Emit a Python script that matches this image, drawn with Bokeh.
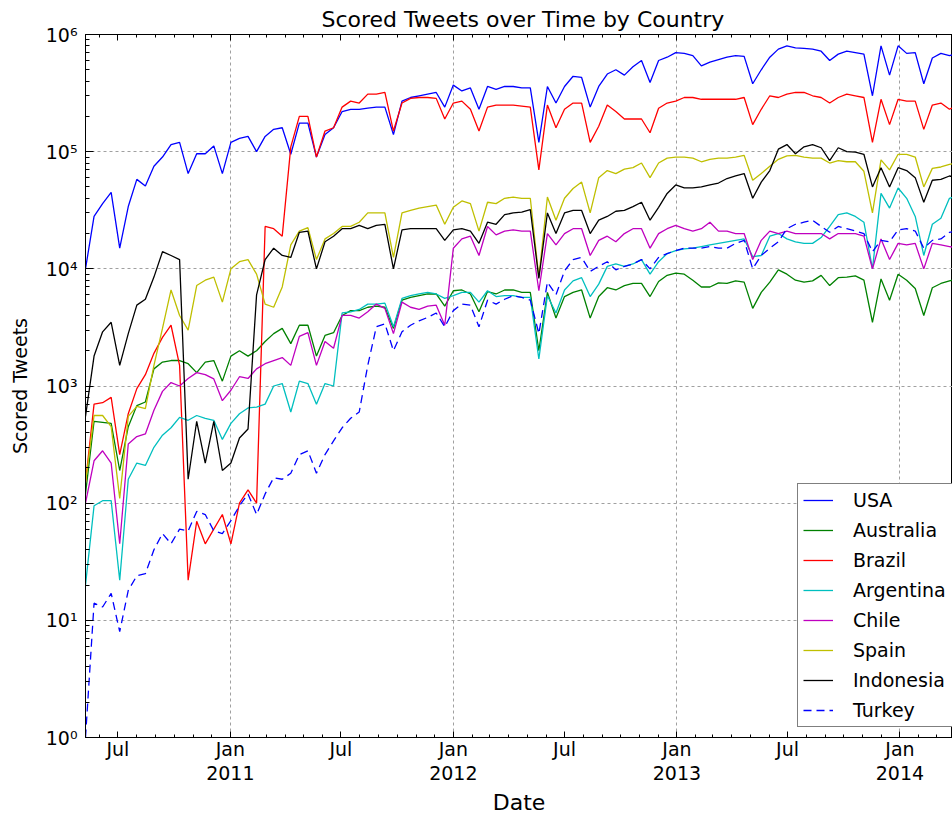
import pandas as pd
from bokeh.plotting import figure
from bokeh.models import (Range1d, FixedTicker, LinearAxis, CustomJSTickFormatter,
                          Legend, LegendItem)
from bokeh.embed import file_html
from bokeh.resources import INLINE

# ---------------- data (bi-weekly samples) ----------------
dates = pd.date_range("2010-05-09", periods=103, freq="14D")

usa = [1.0e4, 2.8e4, 3.6e4, 4.5e4, 1.5e4, 3.4e4, 5.8e4, 5.1e4, 7.5e4, 9.0e4,
       1.15e5, 1.2e5, 6.5e4, 9.6e4, 9.6e4, 1.12e5, 6.5e4, 1.2e5, 1.3e5, 1.35e5,
       1.0e5, 1.35e5, 1.55e5, 1.6e5, 9.5e4, 1.75e5, 1.75e5, 9.0e4, 1.4e5, 1.6e5,
       2.2e5, 2.3e5, 2.3e5, 2.35e5, 2.4e5, 2.4e5, 1.4e5, 2.7e5, 2.9e5, 3.0e5,
       3.1e5, 3.2e5, 2.4e5, 3.7e5, 3.3e5, 3.5e5, 2.3e5, 3.6e5, 3.4e5, 3.6e5,
       3.6e5, 3.5e5, 3.5e5, 1.2e5, 3.6e5, 2.6e5, 3.6e5, 4.4e5, 4.3e5, 2.4e5,
       3.6e5, 4.6e5, 5.0e5, 4.5e5, 5.3e5, 6.0e5, 3.9e5, 6.0e5, 6.4e5, 7.0e5,
       6.9e5, 6.6e5, 5.4e5, 5.8e5, 6.1e5, 6.4e5, 6.6e5, 6.5e5, 3.8e5, 5.0e5,
       6.4e5, 7.5e5, 8.0e5, 7.7e5, 7.6e5, 7.5e5, 7.2e5, 6.0e5, 6.8e5, 7.2e5,
       7.0e5, 6.8e5, 3.0e5, 8.0e5, 4.5e5, 8.0e5, 6.9e5, 7.0e5, 3.8e5, 6.3e5,
       6.9e5, 6.6e5, 6.9e5]

australia = [1.2e2, 5.0e2, 4.9e2, 4.8e2, 1.9e2, 4.5e2, 6.8e2, 7.3e2, 1.4e3, 1.6e3,
             1.65e3, 1.65e3, 1.55e3, 1.3e3, 1.6e3, 1.65e3, 1.1e3, 1.8e3, 2.0e3, 1.8e3,
             2.0e3, 2.4e3, 2.8e3, 3.1e3, 2.3e3, 3.3e3, 3.3e3, 1.8e3, 2.7e3, 2.85e3,
             4.0e3, 4.4e3, 4.4e3, 4.7e3, 4.8e3, 4.7e3, 3.1e3, 5.4e3, 5.7e3, 5.9e3,
             6.1e3, 6.1e3, 4.8e3, 6.5e3, 6.6e3, 6.1e3, 4.3e3, 6.4e3, 6.1e3, 6.6e3,
             6.6e3, 6.3e3, 6.3e3, 2.0e3, 6.3e3, 3.8e3, 5.8e3, 6.3e3, 6.6e3, 3.8e3,
             5.8e3, 6.9e3, 6.6e3, 7.2e3, 7.5e3, 7.5e3, 5.8e3, 7.8e3, 8.8e3, 9.2e3,
             9.0e3, 8.0e3, 7.0e3, 7.0e3, 7.6e3, 7.5e3, 7.9e3, 7.7e3, 4.6e3, 6.3e3,
             7.7e3, 9.8e3, 9.0e3, 8.0e3, 7.7e3, 7.9e3, 8.8e3, 7.2e3, 8.4e3, 8.5e3,
             8.7e3, 8.0e3, 3.5e3, 8.2e3, 5.4e3, 9.0e3, 8.0e3, 6.8e3, 4.0e3, 6.9e3,
             7.5e3, 7.9e3, 8.2e3]

brazil = [1.5e2, 7.0e2, 7.2e2, 8.0e2, 2.6e2, 5.8e2, 9.5e2, 1.25e3, 1.9e3, 2.6e3,
          3.3e3, 1.5e3, 22, 70, 45, 60, 80, 45, 1.0e2, 1.3e2,
          1.0e2, 2.3e4, 2.2e4, 1.9e4, 1.1e5, 2.0e5, 2.0e5, 9.0e4, 1.5e5, 1.6e5,
          2.4e5, 2.7e5, 2.6e5, 3.1e5, 3.1e5, 3.2e5, 1.5e5, 2.6e5, 2.85e5, 2.9e5,
          2.9e5, 2.85e5, 1.9e5, 2.6e5, 2.7e5, 2.3e5, 1.5e5, 2.4e5, 2.5e5, 2.5e5,
          2.5e5, 2.45e5, 2.4e5, 7.0e4, 2.5e5, 1.6e5, 2.3e5, 2.6e5, 2.6e5, 1.2e5,
          1.65e5, 2.5e5, 2.2e5, 1.9e5, 1.9e5, 1.9e5, 1.45e5, 2.35e5, 2.6e5, 2.7e5,
          2.9e5, 2.9e5, 2.8e5, 2.8e5, 2.8e5, 2.8e5, 2.8e5, 2.9e5, 1.7e5, 2.3e5,
          3.0e5, 2.9e5, 3.1e5, 3.2e5, 3.2e5, 3.0e5, 2.9e5, 2.6e5, 2.9e5, 3.1e5,
          3.0e5, 2.9e5, 1.2e5, 2.8e5, 1.7e5, 2.8e5, 2.7e5, 2.7e5, 1.55e5, 2.5e5,
          2.6e5, 2.3e5, 2.5e5]

argentina = [20, 95, 1.05e2, 1.05e2, 22, 1.6e2, 2.2e2, 2.1e2, 3.0e2, 3.8e2,
             4.4e2, 5.4e2, 5.1e2, 5.6e2, 5.3e2, 5.1e2, 3.5e2, 4.8e2, 5.8e2, 6.5e2,
             6.6e2, 7.0e2, 1.0e3, 1.05e3, 6.0e2, 1.1e3, 1.05e3, 7.0e2, 1.05e3, 1.0e3,
             4.2e3, 4.3e3, 4.5e3, 5.0e3, 5.0e3, 5.1e3, 3.2e3, 5.6e3, 5.9e3, 6.1e3,
             6.3e3, 6.1e3, 5.6e3, 5.9e3, 6.3e3, 6.3e3, 5.2e3, 6.5e3, 5.8e3, 5.9e3,
             5.9e3, 5.7e3, 5.7e3, 1.7e3, 5.9e3, 4.2e3, 6.6e3, 7.9e3, 8.4e3, 5.8e3,
             7.4e3, 1.05e4, 1.1e4, 1.05e4, 1.1e4, 1.2e4, 9.0e3, 1.15e4, 1.35e4, 1.43e4,
             1.48e4, 1.5e4, 1.55e4, 1.6e4, 1.65e4, 1.7e4, 1.75e4, 1.8e4, 1.27e4, 1.3e4,
             1.9e4, 2.0e4, 1.8e4, 1.7e4, 1.65e4, 1.65e4, 1.85e4, 2.3e4, 2.9e4, 3.0e4,
             2.8e4, 2.5e4, 1.0e4, 4.4e4, 3.3e4, 4.9e4, 4.0e4, 2.8e4, 1.3e4, 2.4e4,
             2.7e4, 4.0e4, 4.2e4]

chile = [1.0e2, 2.3e2, 2.8e2, 2.2e2, 45, 3.2e2, 3.7e2, 3.9e2, 6.2e2, 9.0e2,
         1.07e3, 1.0e3, 1.16e3, 1.3e3, 1.25e3, 1.15e3, 7.5e2, 9.2e2, 1.2e3, 1.16e3,
         1.4e3, 1.55e3, 1.65e3, 1.75e3, 1.5e3, 2.65e3, 2.85e3, 1.5e3, 2.4e3, 2.1e3,
         4.0e3, 4.0e3, 3.8e3, 4.3e3, 5.0e3, 4.6e3, 2.8e3, 5.2e3, 4.7e3, 4.5e3,
         4.8e3, 4.9e3, 3.3e3, 1.5e4, 1.8e4, 1.9e4, 1.3e4, 2.3e4, 1.95e4, 2.1e4,
         2.15e4, 2.1e4, 2.1e4, 6.5e3, 2.0e4, 1.6e4, 2.0e4, 2.2e4, 2.2e4, 1.3e4,
         1.75e4, 1.9e4, 1.7e4, 2.0e4, 2.2e4, 2.2e4, 1.5e4, 2.0e4, 2.2e4, 2.35e4,
         2.2e4, 2.1e4, 2.2e4, 2.5e4, 2.1e4, 2.1e4, 2.0e4, 2.0e4, 1.2e4, 1.75e4,
         2.1e4, 2.0e4, 2.1e4, 2.0e4, 2.0e4, 2.0e4, 2.0e4, 1.8e4, 2.0e4, 2.0e4,
         2.0e4, 1.9e4, 1.0e4, 1.8e4, 1.2e4, 1.65e4, 1.6e4, 1.65e4, 1.0e4, 1.65e4,
         1.6e4, 1.55e4, 1.5e4]

spain = [1.5e2, 5.6e2, 5.6e2, 4.5e2, 1.1e2, 5.5e2, 6.7e2, 6.4e2, 1.5e3, 3.1e3,
         6.6e3, 4.0e3, 3.0e3, 7.2e3, 8.0e3, 8.5e3, 5.2e3, 1.0e4, 1.15e4, 1.2e4,
         9.0e3, 5.0e3, 4.7e3, 7.0e3, 1.6e4, 2.1e4, 2.25e4, 1.2e4, 1.8e4, 2.0e4,
         2.3e4, 2.3e4, 2.5e4, 3.0e4, 3.0e4, 3.0e4, 1.25e4, 3.0e4, 3.15e4, 3.3e4,
         3.4e4, 3.5e4, 2.4e4, 3.35e4, 3.8e4, 3.6e4, 2.1e4, 3.7e4, 3.6e4, 4.0e4,
         4.1e4, 4.0e4, 4.0e4, 8.5e3, 4.1e4, 2.6e4, 4.0e4, 4.85e4, 5.5e4, 3.0e4,
         6.0e4, 6.9e4, 6.5e4, 7.1e4, 7.3e4, 8.0e4, 6.0e4, 8.0e4, 8.8e4, 9.0e4,
         9.0e4, 8.8e4, 8.2e4, 8.6e4, 8.8e4, 8.8e4, 9.0e4, 9.3e4, 5.7e4, 6.5e4,
         7.5e4, 8.6e4, 9.2e4, 9.3e4, 9.0e4, 8.8e4, 8.8e4, 8.0e4, 8.4e4, 8.2e4,
         8.2e4, 6.8e4, 3.0e4, 8.5e4, 7.0e4, 9.5e4, 9.5e4, 9.0e4, 5.0e4, 7.2e4,
         7.4e4, 7.8e4, 8.0e4]

indonesia = [5.5e2, 1.8e3, 2.9e3, 3.5e3, 1.5e3, 2.8e3, 4.9e3, 5.5e3, 8.5e3, 1.4e4,
             1.3e4, 1.2e4, 1.6e2, 5.0e2, 2.2e2, 5.0e2, 1.9e2, 2.2e2, 3.6e2, 4.3e2,
             6.0e3, 1.2e4, 1.5e4, 1.3e4, 1.25e4, 2.05e4, 2.1e4, 1.0e4, 1.7e4, 1.9e4,
             2.2e4, 2.2e4, 2.35e4, 2.2e4, 2.35e4, 2.4e4, 1.0e4, 2.15e4, 2.2e4, 2.2e4,
             2.2e4, 2.2e4, 1.75e4, 2.15e4, 2.2e4, 2.1e4, 1.65e4, 2.5e4, 2.4e4, 2.9e4,
             3.0e4, 3.05e4, 3.2e4, 8.3e3, 3.0e4, 2.0e4, 3.0e4, 3.15e4, 3.15e4, 2.0e4,
             2.6e4, 2.8e4, 3.1e4, 3.15e4, 3.4e4, 3.7e4, 2.6e4, 3.35e4, 4.4e4, 5.2e4,
             4.9e4, 4.9e4, 5.0e4, 5.2e4, 5.4e4, 5.9e4, 6.2e4, 6.5e4, 4.0e4, 5.5e4,
             6.9e4, 1.05e5, 1.15e5, 9.6e4, 1.1e5, 1.15e5, 1.08e5, 8.4e4, 1.08e5, 1.0e5,
             9.9e4, 9.5e4, 5.0e4, 7.3e4, 5.0e4, 7.3e4, 6.9e4, 6.0e4, 3.7e4, 5.7e4,
             5.8e4, 6.2e4, 6.0e4]

turkey = [1.0, 14, 13, 17, 8, 18, 24, 25, 40, 55,
          45, 60, 58, 85, 80, 58, 55, 71, 95, 1.2e2,
          80, 1.2e2, 1.65e2, 1.6e2, 1.8e2, 2.6e2, 2.8e2, 1.8e2, 2.6e2, 3.4e2,
          4.4e2, 5.3e2, 6.0e2, 1.5e3, 3.2e3, 3.4e3, 2.0e3, 2.9e3, 3.3e3, 3.6e3,
          3.85e3, 4.2e3, 3.2e3, 4.4e3, 5.0e3, 4.9e3, 3.2e3, 5.4e3, 5.0e3, 5.5e3,
          5.9e3, 5.7e3, 5.4e3, 2.8e3, 7.7e3, 6.0e3, 9.6e3, 1.2e4, 1.25e4, 9.5e3,
          1.05e4, 1.15e4, 9.8e3, 1.05e4, 1.1e4, 1.2e4, 1.0e4, 1.25e4, 1.35e4, 1.43e4,
          1.5e4, 1.5e4, 1.5e4, 1.55e4, 1.5e4, 1.5e4, 1.65e4, 1.75e4, 1.0e4, 1.3e4,
          1.5e4, 1.7e4, 2.2e4, 2.4e4, 2.5e4, 2.6e4, 2.3e4, 2.05e4, 2.3e4, 2.2e4,
          2.1e4, 2.0e4, 1.4e4, 1.75e4, 1.7e4, 2.15e4, 2.2e4, 2.1e4, 1.5e4, 1.75e4,
          1.8e4, 2.05e4, 2.1e4]

countries = ["USA", "Australia", "Brazil", "Argentina", "Chile", "Spain", "Indonesia", "Turkey"]
series = [usa, australia, brazil, argentina, chile, spain, indonesia, turkey]
colors = ["#0000ff", "#008000", "#ff0000", "#00bfbf", "#bf00bf", "#bfbf00", "#000000", "#0000ff"]
dashes = ["solid"] * 7 + ["8 5"]

# tick positions
labeled_ticks = ["2010-07-01", "2011-01-01", "2011-07-01", "2012-01-01", "2012-07-01",
                 "2013-01-01", "2013-07-01", "2014-01-01"]
year_ticks = ["2011-01-01", "2012-01-01", "2013-01-01", "2014-01-01"]
month_ticks = pd.date_range("2010-06-01", "2014-04-01", freq="MS")
x_start, x_end = "2010-05-09", "2014-03-28"
decades = [1, 10, 100, 1e3, 1e4, 1e5, 1e6]

def ms(d):
    return pd.Timestamp(d).value / 1e6

FONT = "DejaVu Sans"

p = figure(width=952, height=817, x_axis_type="datetime", y_axis_type="log",
           x_range=Range1d(ms(x_start), ms(x_end)), y_range=Range1d(1, 1e6),
           output_backend="svg", toolbar_location=None,
           min_border_left=85, min_border_right=0, min_border_top=34, min_border_bottom=80,
           title="Scored Tweets over Time by Country")
p.title.text_font = FONT
p.title.text_font_size = "22px"
p.title.text_font_style = "normal"
p.title.text_color = "black"
p.title.align = "left"
p.title.offset = 236
p.title.standoff = 6
p.outline_line_color = "black"
p.outline_line_width = 1
p.background_fill_color = "white"
p.border_fill_color = "white"

renderers = []
for name, vals, col, dash in zip(countries, series, colors, dashes):
    r = p.line(dates, vals, line_color=col, line_width=1.3, line_dash=dash)
    renderers.append(r)

# x axis: months
xa = p.xaxis[0]
xa.ticker = FixedTicker(ticks=[ms(t) for t in labeled_ticks],
                        minor_ticks=[ms(t) for t in month_ticks])
xa.formatter = CustomJSTickFormatter(code="""
const names = ["Jan","Feb","Mar","Apr","May","Jun","Jul","Aug","Sep","Oct","Nov","Dec"];
return names[new Date(tick).getUTCMonth()];
""")
xa.major_label_text_font = FONT
xa.major_label_text_font_size = "19px"
xa.major_label_text_color = "black"
xa.major_label_standoff = 0
xa.major_tick_in = 6
xa.major_tick_out = 0
xa.minor_tick_in = 3
xa.minor_tick_out = 0
xa.axis_line_color = "black"
xa.major_tick_line_color = "black"
xa.minor_tick_line_color = "black"

# second row of x labels: years + axis label
ya2 = LinearAxis(ticker=FixedTicker(ticks=[ms(t) for t in year_ticks], minor_ticks=[]),
                 formatter=CustomJSTickFormatter(code="return String(new Date(tick).getUTCFullYear());"),
                 axis_line_color=None, major_tick_line_color=None, minor_tick_line_color=None,
                 major_label_text_font=FONT, major_label_text_font_size="19px",
                 major_label_text_color="black", major_label_standoff=-3,
                 axis_label="Date", axis_label_text_font=FONT, axis_label_text_font_size="22px",
                 axis_label_text_font_style="normal", axis_label_standoff=7,
                 axis_label_text_color="black")
p.add_layout(ya2, "below")

# top axis: tick marks only
top = LinearAxis(ticker=FixedTicker(ticks=[ms(t) for t in labeled_ticks],
                                    minor_ticks=[ms(t) for t in month_ticks]),
                 formatter=CustomJSTickFormatter(code="return '';"),
                 major_label_text_font_size="1px", major_label_standoff=0,
                 major_tick_in=6, major_tick_out=0, minor_tick_in=3, minor_tick_out=0,
                 axis_line_color="black")
p.add_layout(top, "above")

# y axis
yax = p.yaxis[0]
yax.ticker = FixedTicker(ticks=decades,
                         minor_ticks=[m * d for d in decades[:-1] for m in range(2, 10)])
yax.formatter = CustomJSTickFormatter(code="""
const sup = {"0":"\u2070","1":"\u00b9","2":"\u00b2","3":"\u00b3","4":"\u2074","5":"\u2075","6":"\u2076","7":"\u2077","8":"\u2078","9":"\u2079","-":"\u207b"};
const e = Math.round(Math.log10(tick));
return "10" + String(e).split("").map(c => sup[c]).join("");
""")
yax.major_label_text_font = FONT
yax.major_label_text_font_size = "19px"
yax.major_label_text_color = "black"
yax.major_label_standoff = 8
yax.major_tick_in = 8
yax.major_tick_out = 0
yax.minor_tick_in = 4
yax.minor_tick_out = 0
yax.axis_line_color = "black"
yax.major_tick_line_color = "black"
yax.minor_tick_line_color = "black"
yax.axis_label = "Scored Tweets"
yax.axis_label_text_font = FONT
yax.axis_label_text_font_size = "19px"
yax.axis_label_text_font_style = "normal"
yax.axis_label_text_color = "black"
yax.axis_label_standoff = 12

# grids
p.xgrid[0].ticker = FixedTicker(ticks=[ms(t) for t in year_ticks])
p.ygrid[0].ticker = FixedTicker(ticks=decades)
for g in (p.xgrid[0], p.ygrid[0]):
    g.grid_line_color = "#a0a0a0"
    g.grid_line_dash = "3 3"
    g.grid_line_width = 1

legend = Legend(items=[LegendItem(label=n, renderers=[r]) for n, r in zip(countries, renderers)],
                location=(712, 10), margin=0, padding=5, spacing=8,
                glyph_width=30, glyph_height=20, label_height=20, label_width=110,
                label_standoff=20, label_text_font=FONT, label_text_font_size="19px",
                label_text_color="black",
                border_line_color="black", border_line_width=1,
                background_fill_color="white", background_fill_alpha=1)
p.add_layout(legend)

open("out.html", "w").write(file_html(p, INLINE))
